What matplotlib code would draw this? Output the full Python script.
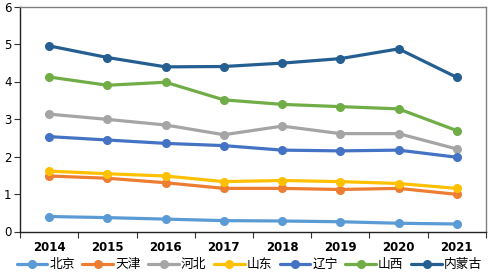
import matplotlib
matplotlib.use("Agg")
import matplotlib.pyplot as plt

plt.rcParams['font.family'] = ['Noto Sans CJK SC', 'DejaVu Sans']

years = ["2014", "2015", "2016", "2017", "2018", "2019", "2020", "2021"]
beijing = [0.40, 0.37, 0.33, 0.29, 0.28, 0.26, 0.22, 0.20]
tianjin = [1.48, 1.42, 1.30, 1.15, 1.15, 1.12, 1.15, 0.99]
hebei = [3.13, 2.99, 2.84, 2.58, 2.81, 2.61, 2.61, 2.20]
shandong = [1.61, 1.54, 1.48, 1.33, 1.36, 1.33, 1.28, 1.15]
liaoning = [2.53, 2.44, 2.35, 2.29, 2.17, 2.15, 2.17, 1.98]
shanxi = [4.12, 3.90, 3.98, 3.51, 3.39, 3.33, 3.27, 2.69]
neimenggu = [4.95, 4.64, 4.39, 4.40, 4.49, 4.61, 4.87, 4.11]

series = [
    ("北京", beijing, "#5B9BD5"),
    ("天津", tianjin, "#ED7D31"),
    ("河北", hebei, "#A5A5A5"),
    ("山东", shandong, "#FFC000"),
    ("辽宁", liaoning, "#4472C4"),
    ("山西", shanxi, "#70AD47"),
    ("内蒙古", neimenggu, "#255E91"),
]

fig = plt.figure(figsize=(4.89, 2.73), dpi=100)
ax = fig.add_axes([20/489, 1 - 231.5/273, 466/489, 225/273])

x = list(range(len(years)))
for name, vals, col in series:
    ax.plot(x, vals, color=col, lw=2.3, marker='o', ms=5.5, label=name,
            solid_capstyle='round')

ax.set_xlim(-0.5, len(years) - 0.5)
ax.set_ylim(0, 6)
ax.set_yticks([0, 1, 2, 3, 4, 5, 6])
ax.set_xticks(x)
ax.set_xticklabels(years, fontsize=8.5, fontweight='semibold', family='DejaVu Sans')
ax.set_xticks([i - 0.5 for i in range(len(years) + 1)], minor=True)
ax.tick_params(axis='x', which='major', length=0, pad=7)
ax.tick_params(axis='x', which='minor', length=4, width=0.8, color='#333333', direction='out')
ax.tick_params(axis='y', length=4, width=0.8, color='#333333', labelsize=8.5, pad=2)
for lbl in ax.get_yticklabels():
    lbl.set_family('DejaVu Sans')

for s in ['left', 'bottom']:
    ax.spines[s].set_color('#222222')
    ax.spines[s].set_linewidth(1.0)
for s in ['top', 'right']:
    ax.spines[s].set_color('#808080')
    ax.spines[s].set_linewidth(1.0)

leg = fig.legend(loc='lower center', bbox_to_anchor=(0.51, -0.022), ncol=7, frameon=False,
                 fontsize=9.2, handlelength=2.4, columnspacing=0.6, handletextpad=0.15,
                 borderpad=0.1)

fig.savefig("out.png", dpi=100)
